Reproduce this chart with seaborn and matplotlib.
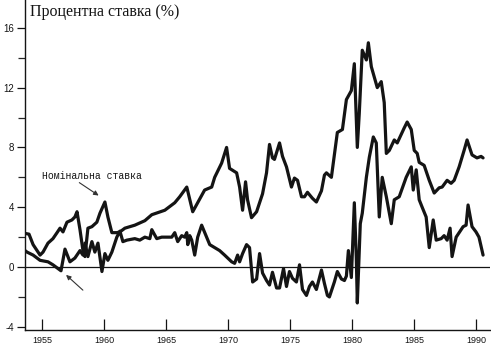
import numpy as np
import pandas as pd
import matplotlib
matplotlib.use("Agg")
import matplotlib.pyplot as plt
import seaborn as sns
from matplotlib.ticker import MultipleLocator

# ------------------------------------------------------------
# data (year, percent)
# ------------------------------------------------------------
nominal_years = [
    1953.63, 1953.95, 1954.28, 1954.60, 1954.84, 1955.08, 1955.48, 1955.88, 1956.21, 1956.45,
    1956.69, 1957.01, 1957.41, 1957.65, 1957.82, 1958.06, 1958.30, 1958.46, 1958.70, 1959.02,
    1959.42, 1959.67, 1960.07, 1960.31, 1960.63, 1961.03, 1961.28, 1961.68, 1962.48, 1963.29,
    1963.85, 1964.90, 1965.70, 1966.10, 1966.67, 1967.15, 1968.11, 1968.68, 1968.92, 1969.48,
    1969.88, 1970.12, 1970.69, 1970.93, 1971.17, 1971.41, 1971.57, 1971.89, 1972.30, 1972.78,
    1973.10, 1973.34, 1973.58, 1973.74, 1974.15, 1974.39, 1974.71, 1975.11, 1975.35, 1975.60,
    1975.92, 1976.16, 1976.40, 1976.80, 1977.12, 1977.53, 1977.77, 1977.93, 1978.33, 1978.81,
    1979.22, 1979.54, 1979.94, 1980.18, 1980.42, 1980.58, 1980.82, 1981.15, 1981.31, 1981.55,
    1982.03, 1982.35, 1982.59, 1982.76, 1983.00, 1983.40, 1983.64, 1984.20, 1984.44, 1984.77,
    1985.01, 1985.25, 1985.41, 1985.81, 1986.22, 1986.62, 1987.02, 1987.26, 1987.66, 1987.98,
    1988.23, 1988.63, 1989.03, 1989.27, 1989.67, 1990.07, 1990.40, 1990.56,
]
nominal_rate = [
    2.25, 2.2, 1.5, 1.1, 0.8, 1.0, 1.6, 1.9, 2.3, 2.6,
    2.35, 3.0, 3.15, 3.35, 3.7, 2.5, 1.1, 0.7, 2.6, 2.7,
    3.0, 3.6, 4.35, 3.35, 2.3, 2.3, 2.35, 2.6, 2.8, 3.1,
    3.5, 3.8, 4.3, 4.7, 5.35, 3.7, 5.15, 5.35, 6.0, 6.95,
    8.0, 6.6, 6.3, 5.35, 3.8, 5.7, 4.5, 3.3, 3.7, 4.9,
    6.3, 8.2, 7.3, 7.2, 8.3, 7.4, 6.7, 5.35, 5.95, 5.8,
    4.7, 4.7, 5.0, 4.6, 4.35, 5.1, 6.15, 6.3, 6.0, 9.0,
    9.2, 11.2, 11.8, 13.6, 8.0, 10.3, 14.5, 13.85, 15.0, 13.4,
    12.0, 12.4, 11.0, 7.6, 7.8, 8.5, 8.3, 9.3, 9.7, 9.2,
    7.8, 7.6, 7.0, 6.8, 5.8, 4.95, 5.3, 5.35, 5.8, 5.6,
    5.8, 6.7, 7.8, 8.5, 7.5, 7.3, 7.4, 7.3,
]

real_years = [
    1953.63, 1953.79, 1954.28, 1954.84, 1955.48, 1955.88, 1956.53, 1956.85, 1957.25, 1957.65,
    1958.06, 1958.30, 1958.46, 1958.70, 1959.02, 1959.26, 1959.51, 1959.83, 1960.07, 1960.31,
    1960.63, 1961.03, 1961.28, 1961.52, 1961.84, 1962.48, 1962.88, 1963.29, 1963.69, 1963.85,
    1964.25, 1964.65, 1965.06, 1965.46, 1965.70, 1965.94, 1966.26, 1966.50, 1966.67, 1966.75,
    1966.91, 1967.07, 1967.31, 1967.55, 1967.87, 1968.27, 1968.52, 1968.92, 1969.32, 1969.72,
    1970.29, 1970.53, 1970.77, 1970.93, 1971.17, 1971.49, 1971.73, 1971.98, 1972.30, 1972.54,
    1972.78, 1973.10, 1973.34, 1973.58, 1973.91, 1974.15, 1974.47, 1974.71, 1974.95, 1975.19,
    1975.51, 1975.76, 1976.00, 1976.32, 1976.56, 1976.80, 1977.12, 1977.53, 1977.77, 1978.01,
    1978.17, 1978.57, 1978.81, 1979.14, 1979.38, 1979.54, 1979.70, 1979.94, 1980.18, 1980.34,
    1980.42, 1980.66, 1980.82, 1981.15, 1981.39, 1981.71, 1981.95, 1982.19, 1982.43, 1982.76,
    1983.16, 1983.40, 1983.80, 1984.36, 1984.77, 1984.93, 1985.17, 1985.41, 1985.65, 1985.97,
    1986.22, 1986.54, 1986.78, 1987.18, 1987.42, 1987.66, 1987.90, 1988.06, 1988.39, 1988.63,
    1988.95, 1989.19, 1989.35, 1989.67, 1989.99, 1990.23, 1990.56,
]
real_rate = [
    1.1, 1.0, 0.8, 0.45, 0.35, 0.15, -0.25, 1.2, 0.35, 0.6,
    1.1, 0.8, 1.6, 0.7, 1.7, 1.0, 1.6, -0.3, 0.9, 0.45,
    1.0, 2.0, 2.4, 1.7, 1.8, 1.9, 1.8, 2.0, 1.9, 2.5,
    1.9, 2.0, 2.0, 2.0, 2.3, 1.7, 2.1, 2.0, 2.3, 1.5,
    2.1, 1.8, 0.8, 2.0, 2.8, 2.0, 1.5, 1.3, 1.1, 0.8,
    0.35, 0.25, 0.8, 0.35, 0.9, 1.5, 1.3, -1.0, -0.8, 0.9,
    -0.4, -0.9, -1.2, -0.35, -1.4, -1.4, -0.1, -1.3, -0.3, -0.75,
    -1.0, 0.15, -1.5, -1.9, -1.3, -1.0, -1.5, -0.2, -1.1, -1.9,
    -2.0, -1.0, -0.3, -0.8, -0.9, -0.6, 1.1, -0.7, 4.3, 0.6,
    -2.4, 2.9, 3.6, 6.0, 7.35, 8.7, 8.3, 3.35, 6.0, 4.7,
    2.9, 4.5, 4.7, 6.0, 6.7, 5.15, 6.5, 4.5, 4.0, 3.35,
    1.3, 3.15, 1.8, 1.9, 2.1, 1.8, 2.6, 0.7, 2.0, 2.3,
    2.7, 2.8, 4.15, 2.7, 2.35, 2.0, 0.8,
]

x_ticks = [1955, 1960, 1965, 1970, 1975, 1980, 1985, 1990]
y_ticks = [-4, 0, 4, 8, 12, 16]

title_text = "Процентна ставка (%)"
nominal_label = "Номінальна ставка"

nominal_df = pd.DataFrame({"year": nominal_years, "rate": nominal_rate})
real_df = pd.DataFrame({"year": real_years, "rate": real_rate})

# ------------------------------------------------------------
# plot
# ------------------------------------------------------------
sns.set_style("ticks")
plt.rcParams["font.family"] = ["Liberation Sans", "DejaVu Sans"]

fig = plt.figure(figsize=(4.91, 3.47), dpi=100)
ax = fig.add_axes([0.051, 0.049, 0.947, 0.951])

ink = "#141414"
sns.lineplot(data=nominal_df, x="year", y="rate", ax=ax, color=ink, lw=2.3,
             estimator=None, sort=False)
sns.lineplot(data=real_df, x="year", y="rate", ax=ax, color=ink, lw=2.3,
             estimator=None, sort=False)
ax.axhline(0, color=ink, lw=0.9, zorder=1)

ax.set_xlim(1953.63, 1991.12)
ax.set_ylim(-4.21, 17.86)
ax.set_xticks(x_ticks)
ax.set_xticklabels([str(t) for t in x_ticks], fontsize=6.5)
ax.set_yticks(y_ticks)
ax.set_yticklabels([str(t) for t in y_ticks], fontsize=7)
ax.yaxis.set_minor_locator(MultipleLocator(2))
ax.tick_params(axis="x", direction="in", length=8, width=0.9, pad=4, colors=ink)
ax.tick_params(axis="y", which="major", direction="out", length=6, width=0.9, pad=2, colors=ink)
ax.tick_params(axis="y", which="minor", direction="out", length=5, width=0.9)
ax.set_xlabel("")
ax.set_ylabel("")
sns.despine(ax=ax)
for s in ("left", "bottom"):
    ax.spines[s].set_linewidth(1.0)
    ax.spines[s].set_color(ink)

fig.text(0.061, 0.965, title_text, fontsize=11.5, va="center", ha="left",
         family=["Liberation Serif", "DejaVu Serif"], color=ink)

ax.text(1955.0, 6.1, nominal_label, fontsize=7, va="center", ha="left",
        family=["Liberation Mono", "DejaVu Sans Mono"], color=ink)
ax.annotate("", xy=(1959.75, 4.68), xytext=(1957.82, 5.75),
            arrowprops=dict(arrowstyle="-|>", color="#333333", lw=0.8,
                            mutation_scale=7))
ax.annotate("", xy=(1956.77, -0.4), xytext=(1958.46, -1.67),
            arrowprops=dict(arrowstyle="-|>", color="#333333", lw=0.8,
                            mutation_scale=7))

fig.savefig("out.png", dpi=100)
plt.close(fig)
